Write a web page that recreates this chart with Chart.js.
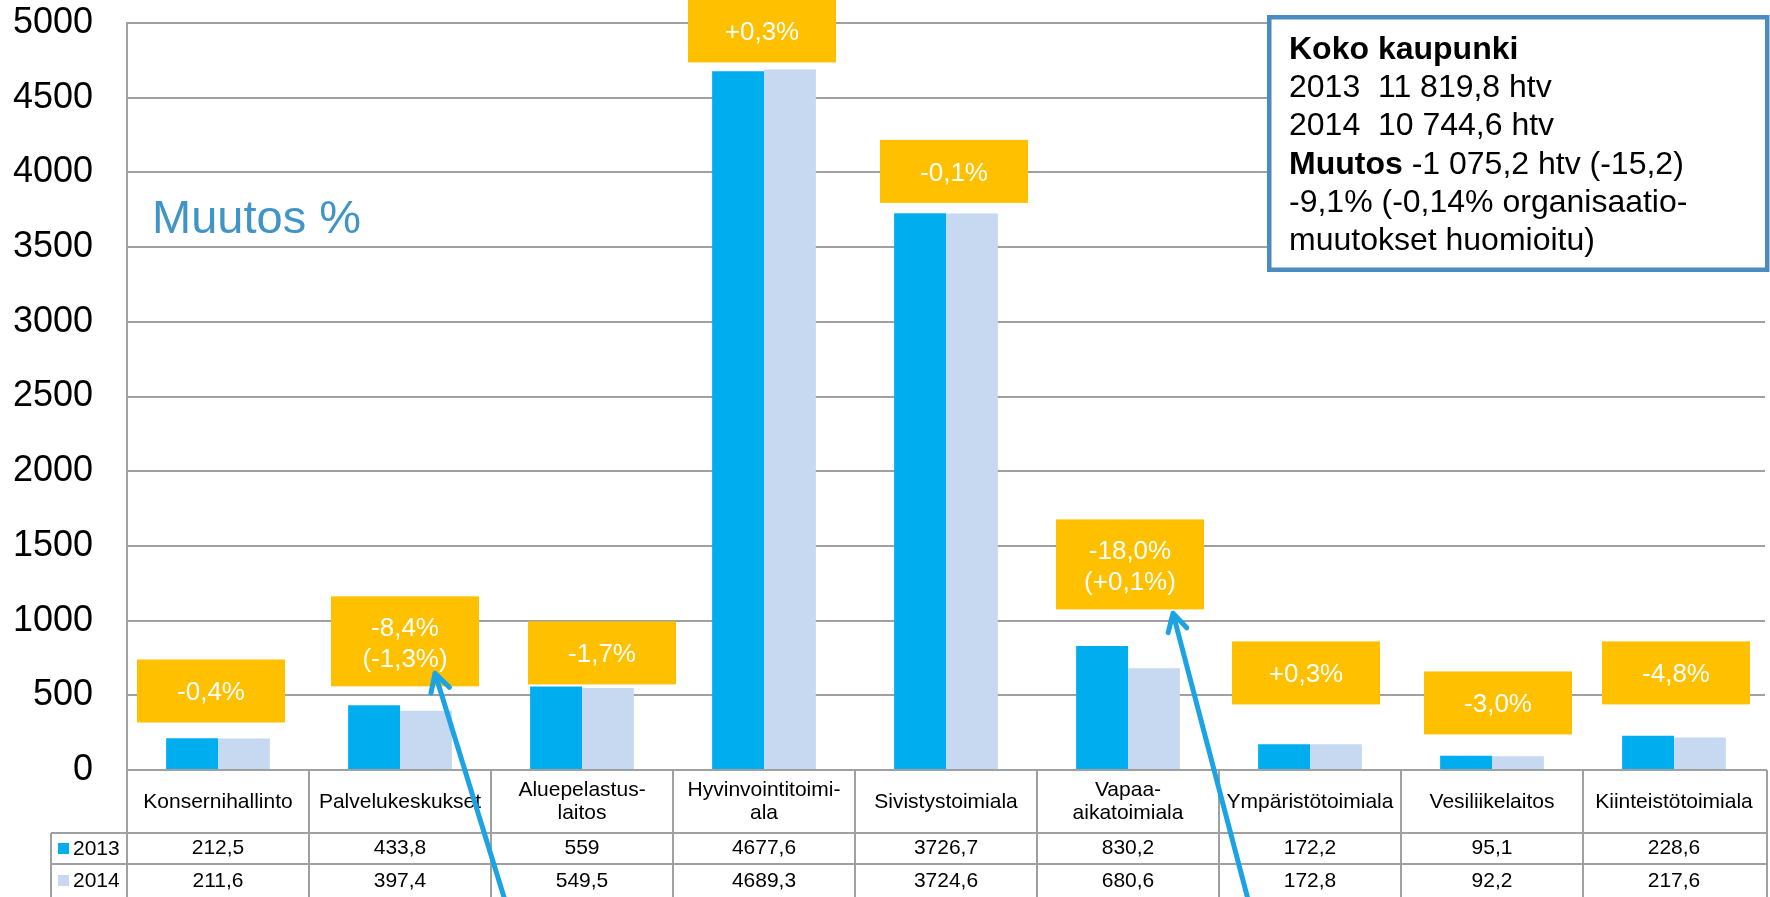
<!DOCTYPE html>
<html><head><meta charset="utf-8">
<script src="https://cdn.jsdelivr.net/npm/chart.js@4.4.1/dist/chart.umd.min.js"></script>
<style>html,body{margin:0;padding:0;background:#fff;overflow:hidden}canvas{display:block}</style>
</head><body>
<canvas id="c" width="1770" height="897"></canvas>
<script>
// ---- data ----
const categories = [["Konsernihallinto"],["Palvelukeskukset"],["Aluepelastus-","laitos"],["Hyvinvointitoimi-","ala"],["Sivistystoimiala"],["Vapaa-","aikatoimiala"],["Ympäristötoimiala"],["Vesiliikelaitos"],["Kiinteistötoimiala"]];
const seriesLabels = ["2013","2014"];
const values2013 = [212.5,433.8,559,4677.6,3726.7,830.2,172.2,95.1,228.6];
const values2014 = [211.6,397.4,549.5,4689.3,3724.6,680.6,172.8,92.2,217.6];
const yTickLabels = ["0","500","1000","1500","2000","2500","3000","3500","4000","4500","5000"];
const changeLabels = [["-0,4%"],["-8,4%","(-1,3%)"],["-1,7%"],["+0,3%"],["-0,1%"],["-18,0%","(+0,1%)"],["+0,3%"],["-3,0%"],["-4,8%"]];
const changeBoxBottom = [318,560,573,4736,3796,1075,439,238,439];
const summaryTitle = "Koko kaupunki";
const summaryLines = ["2013  11 819,8 htv","2014  10 744,6 htv"];
const summaryChangeBold = "Muutos";
const summaryChangeRest = " -1 075,2 htv (-15,2)";
const summaryNote = ["-9,1% (-0,14% organisaatio-","muutokset huomioitu)"];
const sideTitle = "Muutos %";

// ---- layout / style (not data) ----
const FONT = '"Liberation Sans", Arial, sans-serif';
const COL2013 = '#00ADEF', COL2014 = '#C6D9F1', GRID = '#A0A0A0';
const changeBoxShift = [-7,5,20,-2,8,2,-4,6,2];
const arrows = [
  {cat:1, dx:35, value:647, tailDx:74, tailDy:240},
  {cat:5, dx:45, value:1049, tailDx:76, tailDy:290}
];

const fmt = v => String(v).replace('.', ',');

const overlay = {
  id:'overlay',
  afterDatasetsDraw(chart){
    const ctx = chart.ctx, xs = chart.scales.x, ys = chart.scales.y, ca = chart.chartArea;
    ctx.save();
    changeLabels.forEach((lines,i)=>{
      const cx = xs.getPixelForValue(i) + changeBoxShift[i];
      const bottom = ys.getPixelForValue(changeBoxBottom[i]);
      const h = lines.length > 1 ? 90 : 63, w = 148;
      ctx.fillStyle = '#FFC000';
      ctx.fillRect(cx - w/2, bottom - h, w, h);
      ctx.fillStyle = '#FFFFFF';
      ctx.font = '26px ' + FONT;
      ctx.textAlign = 'center'; ctx.textBaseline = 'middle';
      const mid = bottom - h/2;
      if (lines.length === 1) ctx.fillText(lines[0], cx, mid + 2);
      else { ctx.fillText(lines[0], cx, mid - 13); ctx.fillText(lines[1], cx, mid + 18); }
    });
    ctx.fillStyle = '#4194C6';
    ctx.font = '47px ' + FONT;
    ctx.textAlign = 'left'; ctx.textBaseline = 'alphabetic';
    ctx.fillText(sideTitle, ca.left + 25, 233);
    ctx.fillStyle = '#FFFFFF';
    ctx.fillRect(1267, 15, 503, 257);
    ctx.strokeStyle = '#4A8CBF'; ctx.lineWidth = 4.5;
    ctx.strokeRect(1269.25, 17.25, 498, 252.5);
    ctx.fillStyle = '#000';
    const tx = 1289, b0 = 59, ls = 38.2;
    ctx.font = 'bold 32px ' + FONT;
    ctx.fillText(summaryTitle, tx, b0);
    ctx.font = '32px ' + FONT;
    ctx.fillText(summaryLines[0], tx, b0 + ls);
    ctx.fillText(summaryLines[1], tx, b0 + 2*ls);
    ctx.font = 'bold 32px ' + FONT;
    ctx.fillText(summaryChangeBold, tx, b0 + 3*ls);
    const bw = ctx.measureText(summaryChangeBold).width;
    ctx.font = '32px ' + FONT;
    ctx.fillText(summaryChangeRest, tx + bw, b0 + 3*ls);
    ctx.fillText(summaryNote[0], tx, b0 + 4*ls);
    ctx.fillText(summaryNote[1], tx, b0 + 5*ls);
    ctx.restore();
  },
  afterDraw(chart){
    const ctx = chart.ctx, xs = chart.scales.x, ys = chart.scales.y, ca = chart.chartArea;
    const H = chart.height;
    ctx.save();
    const n = categories.length;
    const edges = [ca.left];
    for (let i = 0; i < n - 1; i++) edges.push((xs.getPixelForValue(i) + xs.getPixelForValue(i+1)) / 2);
    edges.push(ca.right + 2);
    const top = ca.bottom, hdrB = top + 63, r1B = top + 94, legL = 51;
    ctx.strokeStyle = GRID; ctx.lineWidth = 2;
    ctx.beginPath();
    ctx.moveTo(ca.left, top); ctx.lineTo(ca.right + 2, top);
    ctx.moveTo(legL, hdrB); ctx.lineTo(ca.right + 2, hdrB);
    ctx.moveTo(legL, r1B); ctx.lineTo(ca.right + 2, r1B);
    ctx.moveTo(legL, hdrB); ctx.lineTo(legL, H);
    edges.forEach(e => { ctx.moveTo(e, top); ctx.lineTo(e, H); });
    ctx.stroke();
    ctx.fillStyle = '#000'; ctx.font = '21px ' + FONT;
    ctx.textAlign = 'center'; ctx.textBaseline = 'middle';
    categories.forEach((lines,i)=>{
      const cx = xs.getPixelForValue(i);
      if (lines.length === 1) ctx.fillText(lines[0], cx, top + 32);
      else { ctx.fillText(lines[0], cx, top + 20); ctx.fillText(lines[1], cx, top + 43); }
      ctx.fillText(fmt(values2013[i]), cx, hdrB + 15);
      ctx.fillText(fmt(values2014[i]), cx, r1B + 17);
    });
    ctx.textAlign = 'left';
    ctx.fillStyle = COL2013; ctx.fillRect(58, hdrB + 10, 11, 11);
    ctx.fillStyle = COL2014; ctx.fillRect(58, r1B + 11, 11, 11);
    ctx.fillStyle = '#000';
    ctx.fillText(seriesLabels[0], 73, hdrB + 16);
    ctx.fillText(seriesLabels[1], 73, r1B + 17);
    ctx.strokeStyle = '#1BA3E3'; ctx.lineWidth = 5; ctx.lineCap = 'round'; ctx.lineJoin = 'round';
    arrows.forEach(a => {
      const tx = xs.getPixelForValue(a.cat) + a.dx, ty = ys.getPixelForValue(a.value);
      const ex = tx + a.tailDx, ey = ty + a.tailDy;
      const len = Math.hypot(a.tailDx, a.tailDy), ux = a.tailDx/len, uy = a.tailDy/len;
      const ang = 0.5, L = 20;
      const r = (s) => [ux*Math.cos(s) - uy*Math.sin(s), ux*Math.sin(s) + uy*Math.cos(s)];
      const p1 = r(ang), p2 = r(-ang);
      ctx.beginPath();
      ctx.moveTo(ex, ey); ctx.lineTo(tx, ty);
      ctx.moveTo(tx + p1[0]*L, ty + p1[1]*L); ctx.lineTo(tx, ty); ctx.lineTo(tx + p2[0]*L, ty + p2[1]*L);
      ctx.stroke();
    });
    ctx.restore();
  }
};

new Chart(document.getElementById('c'), {
  type: 'bar',
  data: {
    labels: categories.map(c => c.join(' ')),
    datasets: [
      {label: seriesLabels[0], data: values2013, backgroundColor: COL2013, categoryPercentage: 0.57, barPercentage: 1.0},
      {label: seriesLabels[1], data: values2014, backgroundColor: COL2014, categoryPercentage: 0.57, barPercentage: 1.0}
    ]
  },
  options: {
    responsive: false, animation: false, devicePixelRatio: 1,
    layout: {padding: {left: 12, right: 5, top: 23, bottom: 127}},
    plugins: {legend: {display: false}, tooltip: {enabled: false}},
    scales: {
      x: {display: false},
      y: {
        min: 0, max: 5000,
        afterFit: s => { s.width = 115; s.paddingTop = 0; s.paddingBottom = 0; },
        ticks: {stepSize: 500, padding: 34, color: '#000', font: {size: 36, family: FONT},
                callback: (v, i) => yTickLabels[i]},
        grid: {color: GRID, lineWidth: 2, drawTicks: false},
        border: {display: true, color: GRID, width: 2}
      }
    }
  },
  plugins: [overlay]
});
</script>
</body></html>
